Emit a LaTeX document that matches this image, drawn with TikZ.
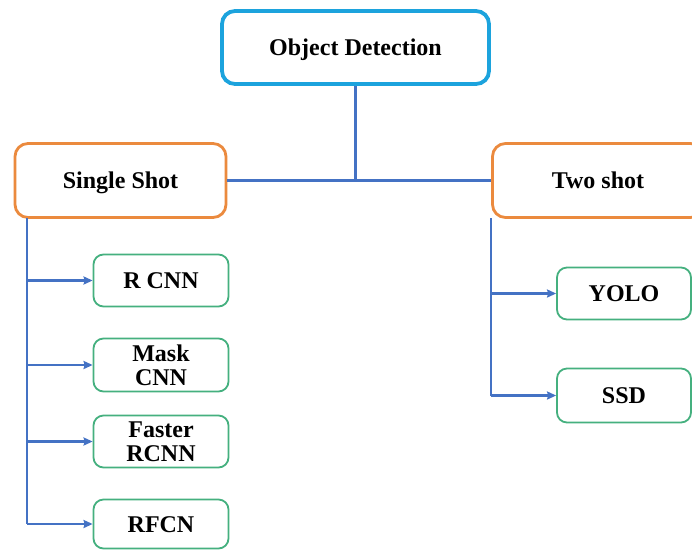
\documentclass[tikz,border=0pt]{standalone}
\usepackage{fontspec}
\setmainfont{Liberation Serif}
\usetikzlibrary{arrows.meta}
\definecolor{topblue}{HTML}{1CA3DD}
\definecolor{orng}{HTML}{EB8A3E}
\definecolor{grn}{HTML}{45B07F}
\definecolor{conn}{HTML}{4472C4}
\tikzset{
  base/.style={rectangle, fill=white, align=center, inner sep=0pt,
    font=\bfseries\fontsize{24}{24}\selectfont},
  oneline/.style={text height=16pt, text depth=0pt},
  topbox/.style={base, oneline, draw=topblue, line width=3.8pt, rounded corners=13pt},
  midbox/.style={base, oneline, draw=orng, line width=2.8pt, rounded corners=13pt},
  leafbox/.style={base, draw=grn, line width=1.8pt, rounded corners=10pt},
  link/.style={draw=conn, line width=2.8pt},
  arr/.style={link, -{Stealth[length=9pt,width=8pt,inset=1pt]}}
}
\begin{document}
\begin{tikzpicture}[x=1pt,y=-1pt]
\clip (0,0) rectangle (692,550);
\fill[white] (0,0) rectangle (692,550);
% boxes
\node[topbox, minimum width=267pt, minimum height=73pt] (od) at (355.5,47.5) {Object Detection};
\node[midbox, minimum width=211pt, minimum height=74pt] (ss) at (120.5,180.5) {Single Shot};
\node[midbox, minimum width=211pt, minimum height=74pt] (ts) at (598,180.5) {Two shot};
\node[leafbox, oneline, minimum width=135pt, minimum height=52pt] (rcnn) at (161,280.5) {R CNN};
\node[leafbox, minimum width=135pt, minimum height=53pt] (mask) at (161,365) {Mask\\CNN};
\node[leafbox, minimum width=135pt, minimum height=52pt] (faster) at (161,441.5) {Faster\\RCNN};
\node[leafbox, oneline, minimum width=135pt, minimum height=49pt] (rfcn) at (161,524) {RFCN};
\node[leafbox, oneline, minimum width=134pt, minimum height=52pt] (yolo) at (624,293.5) {YOLO};
\node[leafbox, oneline, minimum width=134pt, minimum height=54pt] (ssd) at (624,395.5) {SSD};
% connectors
\coordinate (lt) at (27,218);
\coordinate (rt) at (491,218);
\draw[link] (od.south) -- (od.south |- ss.east);
\draw[link] (ss.east) -- (ts.west);
\draw[link] (lt) -- (lt |- rfcn.west);
\draw[arr] (lt |- rcnn.west) -- (rcnn.west);
\draw[arr] (lt |- mask.west) -- (mask.west);
\draw[arr] (lt |- faster.west) -- (faster.west);
\draw[arr] (lt |- rfcn.west) -- (rfcn.west);
\draw[link] (rt) -- (rt |- ssd.west);
\draw[arr] (rt |- yolo.west) -- (yolo.west);
\draw[arr] (rt |- ssd.west) -- (ssd.west);
\end{tikzpicture}
\end{document}
